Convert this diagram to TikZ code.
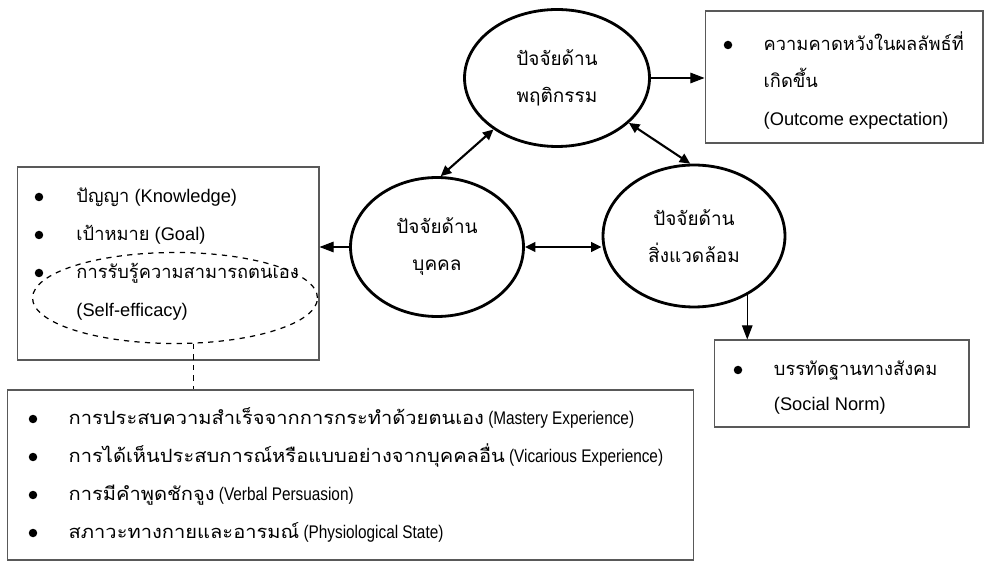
\documentclass[tikz,border=0pt]{standalone}
\usepackage{fontspec}
\setmainfont{Liberation Sans}
\newfontfamily\thai[Script=Thai]{Loma}
\newfontfamily\thaiwide[Script=Thai,FakeStretch=1.1]{Loma}
\newfontfamily\narrowsans[FakeStretch=0.84]{Liberation Sans}
\usepackage{tikz}
\usetikzlibrary{shapes,arrows.meta,positioning}
\tikzstyle{factor} = [ellipse, draw=black, line width=1.6pt, align=center, inner sep=0pt, font=\thai\fontsize{10.8}{21}\selectfont]
\tikzstyle{listbox} = [rectangle, draw=black!65, line width=0.6pt]
\tikzstyle{dot} = [circle, fill=black, inner sep=0pt, minimum size=0.17cm]
\tikzstyle{item} = [inner sep=0pt, text height=10pt, text depth=4pt, font=\fontsize{10.4}{12}\selectfont]
\tikzstyle{srcitem} = [item, font=\narrowsans\fontsize{10.4}{12}\selectfont]
\tikzstyle{arrow} = [line width=0.6pt, -{Triangle[length=8pt,width=6pt]}]
\tikzstyle{twoway} = [line width=1.2pt, {Triangle[length=6pt,width=5.5pt]}-{Triangle[length=6pt,width=5.5pt]}]
\tikzstyle{link} = [dashed, line width=0.7pt]

\begin{document}
\begin{tikzpicture}[x=0.02cm, y=-0.02cm, node distance=0.615cm]
\useasboundingbox (0,0) rectangle (990,563);
% three factors
\node (beh) [factor, minimum width=3.7cm, minimum height=2.74cm] at (557,78) {ปัจจัยด้าน\\พฤติกรรม};
\node (per) [factor, minimum width=3.46cm, minimum height=2.78cm] at (437,247) {ปัจจัยด้าน\\บุคคล};
\node (env) [factor, minimum width=3.64cm, minimum height=2.84cm] at (694,236) {ปัจจัยด้าน\\สิ่งแวดล้อม};

% boxes
\node (outbox) [listbox, minimum width=5.56cm, minimum height=2.64cm] at (844,77) {};
\node (knowbox) [listbox, minimum width=6.04cm, minimum height=3.86cm] at (168,263.5) {};
\node (normbox) [listbox, minimum width=5.1cm, minimum height=1.74cm] at (841.5,383.5) {};
\node (srcbox) [listbox, minimum width=13.74cm, minimum height=3.4cm] at (350.5,475) {};

% outcome expectation
\node (ob1) [dot] at (728,45) {};
\node (o1) [item, right=of ob1] {\thai ความคาดหวังในผลลัพธ์ที่};
\node (o2) [item, anchor=west] at ([yshift=-0.74cm]o1.west) {\thai เกิดขึ้น};
\node (o3) [item, anchor=west] at ([yshift=-1.5cm]o1.west) {(Outcome expectation)};

% personal factors
\node (kb1) [dot] at (39,197) {};
\node (kb2) [dot] at (39,235) {};
\node (kb3) [dot] at (39,273) {};
\node (k1) [item, right=0.65cm of kb1] {{\thai ปัญญา} (Knowledge)};
\node (k2) [item, right=0.65cm of kb2] {{\thai เป้าหมาย} (Goal)};
\node (k3) [item, right=0.65cm of kb3] {\thai การรับรู้ความสามารถตนเอง};
\node (k4) [item, anchor=west] at ([yshift=-0.76cm]k3.west) {(Self-efficacy)};
\node (eff) [ellipse, draw, link, minimum width=5.7cm, minimum height=1.82cm] at (175,298) {};

% social norm
\node (nb1) [dot] at (738,370) {};
\node (n1) [item, right=0.62cm of nb1] {\thai บรรทัดฐานทางสังคม};
\node (n2) [item, anchor=west] at ([yshift=-0.7cm]n1.west) {(Social Norm)};

% sources of self-efficacy
\node (sb1) [dot] at (33,419) {};
\node (sb2) [dot] at (33,457) {};
\node (sb3) [dot] at (33,495) {};
\node (sb4) [dot] at (33,533) {};
\node (s1) [srcitem, right=of sb1] {{\thaiwide การประสบความสำเร็จจากการกระทำด้วยตนเอง} (Mastery Experience)};
\node (s2) [srcitem, right=of sb2] {{\thaiwide การได้เห็นประสบการณ์หรือแบบอย่างจากบุคคลอื่น} (Vicarious Experience)};
\node (s3) [srcitem, right=of sb3] {{\thaiwide การมีคำพูดชักจูง} (Verbal Persuasion)};
\node (s4) [srcitem, right=of sb4] {{\thaiwide สภาวะทางกายและอารมณ์} (Physiological State)};

\draw [arrow] (beh.east) -- (beh.east -| outbox.west);
\draw [arrow] (per.west) -- (per.west -| knowbox.east);
\draw [arrow] (env.-48) -- (env.-48 |- normbox.north);
\draw [twoway] (per.east) -- (per.east -| env.west);
\draw [twoway] (per.87) -- (beh.219);
\draw [twoway] (beh.-32) -- (env.93);
\draw [link] (eff.-68) -- (eff.-68 |- srcbox.north);
\end{tikzpicture}
\end{document}
